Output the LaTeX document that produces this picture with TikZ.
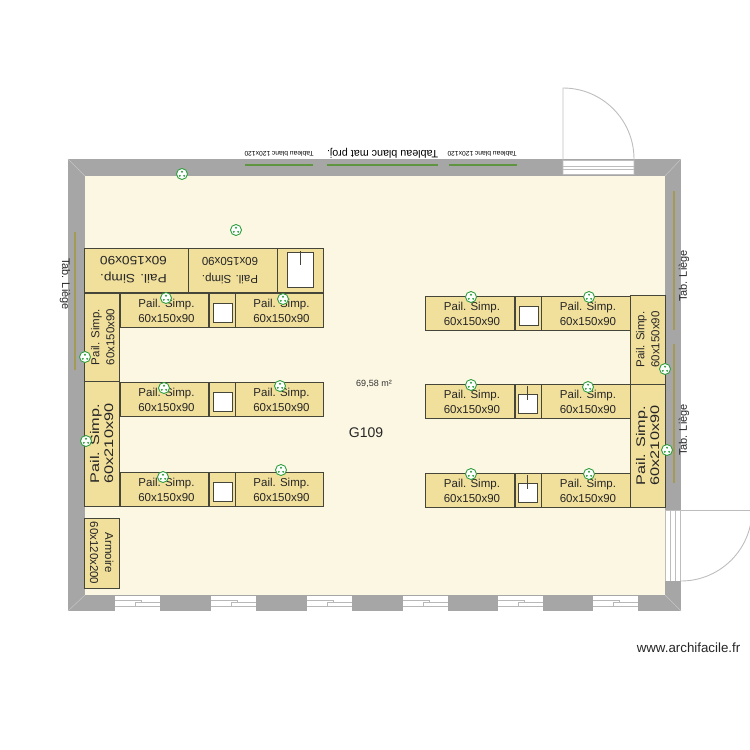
\documentclass[tikz,border=0pt]{standalone}
\usepackage{fontspec}
\setmainfont{Liberation Sans}
\definecolor{wall}{HTML}{A6A6A6}
\definecolor{floorc}{HTML}{FCF7E3}
\definecolor{tilec}{HTML}{F1DF9C}
\definecolor{edgec}{HTML}{45453A}
\definecolor{greenl}{HTML}{5F9440}
\definecolor{liege}{HTML}{A39A55}
\definecolor{sock}{HTML}{2E9E3E}
\definecolor{doorc}{HTML}{BDBDBD}
\tikzset{
  tilebox/.style={draw=edgec,fill=tilec,line width=0.7pt},
  tilelabel/.style={align=center,inner sep=0pt,font=\fontsize{11.5}{15}\selectfont,text=black!85},
  rowlabel/.style={xshift=2.2pt,yshift=-0.8pt},
  fliplabel/.style={rotate=180,xshift=2.5pt,font=\fontsize{11.5}{18}\selectfont},
  sinkbox/.style={draw=edgec,fill=white,line width=0.7pt},
  socket/.style={circle,draw=sock,fill=white,line width=0.9pt,minimum size=11pt,inner sep=0pt},
  doorline/.style={draw=doorc,line width=0.9pt},
  corner/.style={draw=white!35!wall,line width=0.5pt},
  winline/.style={draw=wall!80,line width=0.7pt}
}
\newcommand{\Tile}[6]{%
  \draw[tilebox] (#1,#2) rectangle (#3,#4);
  \node[tilelabel,#6] at ({(#1+#3)/2},{(#2+#4)/2}) {#5};}
\newcommand{\Sink}[4]{\draw[sinkbox] (#1,#2) rectangle (#3,#4);}
\newcommand{\Sock}[3]{%
  \node[socket] (#1) at (#2,#3) {};
  \fill[sock] (#2,#3-2.3) circle (1.05) (#2-2.2,#3+1.8) circle (1.05) (#2+2.2,#3+1.8) circle (1.05);}
\newcommand{\Win}[1]{%
  \fill[white] (#1,596) rectangle (#1+45,611);
  \draw[winline] (#1,600) -- (#1+26,600) -- (#1+26,602) -- (#1+20,602) -- (#1+20,606) -- (#1+45,606)
   (#1+26,602) -- (#1+45,602) (#1,606) -- (#1+20,606);}
\begin{document}
\begin{tikzpicture}[x=1pt,y=-1pt]
\useasboundingbox (0,0) rectangle (750,750);
% walls and floor
\fill[wall] (68,159) rectangle (681,611);
\fill[floorc] (85,176) rectangle (665,595);
\draw[corner] (68,159) -- (85,176) (681,159) -- (665,176) (68,611) -- (85,595) (681,611) -- (665,595);
% windows
\foreach \wx in {115,211,307,403,498,593} {\Win{\wx}}
% top door
\fill[white] (563,160) rectangle (634,174.5);
\draw[doorline] (563,160) -- (634,160) (563,166) -- (634,166) (563,169.5) -- (634,169.5) (563,174.5) -- (634,174.5);
\draw[doorline] (563,175) -- (563,88) arc[start angle=-90,end angle=0,radius=71] -- (634,175);
% right door
\fill[white] (665.5,510) rectangle (681,581);
\draw[doorline] (665.5,510) -- (665.5,581) (670,510) -- (670,581) (675,510) -- (675,581) (680,510) -- (680,581);
\draw[doorline] (666,510) -- (750,510);
\draw[doorline] (681,581) arc[start angle=90,end angle=5,radius=71];
% boards
\draw[greenl,line width=1.2pt] (245,165) -- (313,165) (327,165) -- (438,165) (449,165) -- (517,165);
\draw[liege,line width=1.2pt] (75,232) -- (75,370) (674,191) -- (674,330) (674,344) -- (674,483);
\node[rotate=180,inner sep=0pt] (t1) at (279,154) {\resizebox{69pt}{!}{\fontsize{8}{8}\selectfont Tableau blanc 120x120}};
\node[rotate=180,inner sep=0pt] (t2) at (382.5,153.5) {\resizebox{111pt}{!}{\fontsize{9}{9}\selectfont Tableau blanc mat proj.}};
\node[rotate=180,inner sep=0pt] (t3) at (482,154) {\resizebox{69pt}{!}{\fontsize{8}{8}\selectfont Tableau blanc 120x120}};
\node[rotate=-90,inner sep=0pt,font=\fontsize{11}{13}\selectfont,text=black!85] (l1) at (65,284) {Tab. Liège};
\node[rotate=90,inner sep=0pt,font=\fontsize{11}{13}\selectfont,text=black!85] (l2) at (684,276) {Tab. Liège};
\node[rotate=90,inner sep=0pt,font=\fontsize{11}{13}\selectfont,text=black!85] (l3) at (684,430) {Tab. Liège};
% top-left flipped row
\Tile{84}{248.5}{188}{292}{Pail. Simp.\\60x150x90}{fliplabel,xscale=1.14,transform shape,font=\fontsize{12}{18}\selectfont}
\Tile{188}{248.5}{277}{292}{Pail. Simp.\\60x150x90}{fliplabel}
\draw[tilebox] (277,248.5) rectangle (323,292);
\Sink{287}{252}{313}{287}
\draw[edgec,line width=0.6pt] (300,251) -- (300,265);
% left column
\Tile{84}{293}{119.5}{381}{Pail. Simp.\\60x150x90}{rotate=90,yshift=-1pt}
\Tile{84}{381}{119.5}{506}{Pail. Simp.\\60x210x90}{rotate=90,xscale=1.3,transform shape,font=\fontsize{12.5}{14}\selectfont}
\Tile{84}{518}{119.5}{588}{Armoire\\60x120x200}{rotate=-90}
% left rows
\foreach \ry in {293,382,472} {
  \Tile{120.5}{\ry}{208}{\ry+34}{Pail. Simp.\\60x150x90}{rowlabel}
  \draw[tilebox] (209,\ry) rectangle (235,\ry+34);
  \Sink{213}{\ry+10}{232}{\ry+29}
  \Tile{235.5}{\ry}{323}{\ry+34}{Pail. Simp.\\60x150x90}{rowlabel}
}
% right rows
\foreach \ry in {296,384,473} {
  \Tile{425.5}{\ry}{514}{\ry+34}{Pail. Simp.\\60x150x90}{rowlabel}
  \draw[tilebox] (515,\ry) rectangle (541,\ry+34);
  \Tile{541.5}{\ry}{630}{\ry+34}{Pail. Simp.\\60x150x90}{rowlabel}
}
\Sink{519}{306}{538}{325}
\Sink{518}{394}{537}{413}
\Sink{518}{483}{537}{502}
\draw[edgec,line width=0.6pt] (527.5,386) -- (527.5,400) (527.5,475) -- (527.5,489);
\draw[edgec,line width=1.1pt] (514.5,384) -- (514.5,418) (514.5,473) -- (514.5,507);
% right column
\Tile{630.5}{295}{665}{384}{Pail. Simp.\\60x150x90}{rotate=90}
\Tile{630.5}{384}{665}{507}{Pail. Simp.\\60x210x90}{rotate=90,xscale=1.3,transform shape,font=\fontsize{12.5}{14}\selectfont}
% labels
\node[inner sep=0pt,font=\fontsize{9}{10}\selectfont,text=black!80] (area) at (374,384) {69,58 m²};
\node[inner sep=0pt,font=\fontsize{14}{16}\selectfont,text=black!85] (room) at (366,433) {G109};
\node[inner sep=0pt,font=\fontsize{13.3}{15}\selectfont,text=black!85] (site) at (688.5,648) {www.archifacile.fr};
% sockets
\Sock{s1}{182}{174}
\Sock{s2}{236}{230}
\Sock{s3}{166}{298}
\Sock{s4}{283}{299}
\Sock{s5}{85}{357}
\Sock{s6}{86}{441}
\Sock{s7}{164}{388}
\Sock{s8}{280}{386}
\Sock{s9}{163}{477}
\Sock{s10}{281}{470}
\Sock{s11}{471}{297}
\Sock{s12}{589}{297}
\Sock{s13}{471}{385}
\Sock{s14}{588}{387}
\Sock{s15}{471}{474}
\Sock{s16}{589}{474}
\Sock{s17}{665}{369}
\Sock{s18}{667}{450}
\end{tikzpicture}
\end{document}
